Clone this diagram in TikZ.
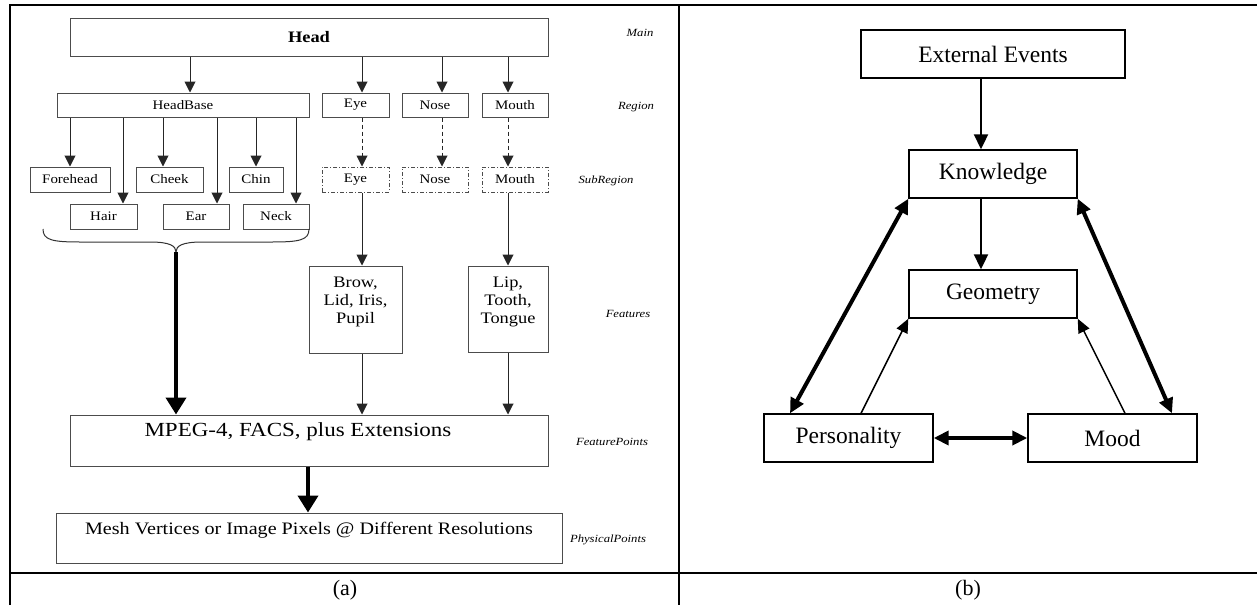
\documentclass[tikz,border=0pt]{standalone}
\usepackage{fontspec}
\setmainfont{Liberation Serif}
\newfontfamily\lfont[FakeStretch=1.15]{Liberation Serif}
\usetikzlibrary{arrows.meta}
\tikzset{
  frame/.style={line width=2.5pt},
  lbox/.style={draw=black!70, line width=1pt, inner sep=0pt, font=\lfont\fontsize{13}{15}\selectfont},
  dbox/.style={lbox, dash pattern=on 4pt off 2pt on 1pt off 2pt},
  bigtxt/.style={font=\lfont\fontsize{16}{18.3}\selectfont, align=center, inner sep=0pt},
  ptxt/.style={font=\lfont\fontsize{17.5}{20}\selectfont, inner sep=0pt},
  lab/.style={font=\lfont\itshape\fontsize{11}{13}\selectfont, inner sep=0pt},
  larr/.style={draw=black!85, line width=1pt, -{Triangle[length=11pt,width=11pt]}},
  ldash/.style={larr, dash pattern=on 4pt off 3pt},
  lthick/.style={line width=4pt, -{Triangle[length=17pt,width=20pt]}},
  rbox/.style={draw, line width=1.4pt, inner sep=0pt, font=\fontsize{23.5}{26}\selectfont},
  rarr/.style={line width=2pt, -{Triangle[length=15pt,width=14pt]}},
  rthick/.style={line width=4pt, {Triangle[length=15pt,width=14pt]}-{Triangle[length=15pt,width=14pt]}},
  rthin/.style={line width=1.5pt, -{Triangle[length=14pt,width=12pt]}},
  captxt/.style={font=\fontsize{22}{24}\selectfont, inner sep=0pt}
}
\begin{document}
\begin{tikzpicture}[x=1pt,y=-1pt]
\useasboundingbox (0,0) rectangle (1257,605);
% frame
\draw[frame] (10,605) -- (10,5) -- (1257,5);
\draw[frame] (679,5) -- (679,605);
\draw[frame] (10,573) -- (1257,573);
\node[captxt] (capa) at (345,590) {(a)};
\node[captxt] (capb) at (968,590) {(b)};

% ---------- left panel ----------
\node[lbox, minimum width=478pt, minimum height=38pt, font=\lfont\bfseries\fontsize{16}{18}\selectfont] (head) at (309,37) {Head};

\node[lbox, minimum width=252pt, minimum height=24pt] (hb) at (183,105) {HeadBase};
\node[lbox, minimum width=67pt, minimum height=24pt] (eyer) at (355.5,105) {Eye};
\node[lbox, minimum width=66pt, minimum height=24pt] (noser) at (435,105) {Nose};
\node[lbox, minimum width=66pt, minimum height=24pt] (mouthr) at (515,105) {Mouth};

\node[lbox, minimum width=80pt, minimum height=25pt] (fore) at (70,179.5) {Forehead};
\node[lbox, minimum width=67pt, minimum height=25pt] (cheek) at (169.5,179.5) {Cheek};
\node[lbox, minimum width=54pt, minimum height=25pt] (chin) at (256,179.5) {Chin};
\node[lbox, minimum width=67pt, minimum height=25pt] (hair) at (103.5,216.5) {Hair};
\node[lbox, minimum width=66pt, minimum height=25pt] (ear) at (196,216.5) {Ear};
\node[lbox, minimum width=66pt, minimum height=25pt] (neck) at (276,216.5) {Neck};

\node[dbox, minimum width=67pt, minimum height=25pt] (eyes) at (355.5,179.5) {Eye};
\node[dbox, minimum width=66pt, minimum height=25pt] (noses) at (435,179.5) {Nose};
\node[dbox, minimum width=66pt, minimum height=25pt] (mouths) at (515,179.5) {Mouth};

\node[lbox, minimum width=93pt, minimum height=87pt] (brow) at (355.5,309.5) {};
\node[bigtxt] (browt) at (355.5,302) {Brow,\\Lid, Iris,\\Pupil};
\node[lbox, minimum width=80pt, minimum height=86pt] (lip) at (508,309) {};
\node[bigtxt] (lipt) at (508,302) {Lip,\\Tooth,\\Tongue};

\node[lbox, minimum width=478pt, minimum height=51pt] (mpeg) at (309,440.5) {};
\node[ptxt, font=\lfont\fontsize{20}{22}\selectfont] (mpegt) at (298,432) {MPEG-4, FACS, plus Extensions};
\node[lbox, minimum width=506pt, minimum height=50pt] (mesh) at (309,538) {};
\node[ptxt] (mesht) at (309,530) {Mesh Vertices or Image Pixels @ Different Resolutions};

% level labels
\node[lab] (lmain) at (640,33) {Main};
\node[lab] (lreg) at (636,107) {Region};
\node[lab] (lsub) at (606,181) {SubRegion};
\node[lab] (lfeat) at (628,314) {Features};
\node[lab] (lfp) at (612,442) {FeaturePoints};
\node[lab] (lpp) at (608,540) {PhysicalPoints};

% arrows head -> regions
\draw[larr] (head.south -| 190,0) -- (hb.north -| 190,0);
\draw[larr] (head.south -| 362,0) -- (eyer.north -| 362,0);
\draw[larr] (head.south -| 442,0) -- (noser.north -| 442,0);
\draw[larr] (head.south -| 508,0) -- (mouthr.north -| 508,0);
% headbase children
\draw[larr] (hb.south -| 70,0) -- (fore.north -| 70,0);
\draw[larr] (hb.south -| 123,0) -- (hair.north -| 123,0);
\draw[larr] (hb.south -| 163,0) -- (cheek.north -| 163,0);
\draw[larr] (hb.south -| 217,0) -- (ear.north -| 217,0);
\draw[larr] (hb.south -| 256,0) -- (chin.north -| 256,0);
\draw[larr] (hb.south -| 296,0) -- (neck.north -| 296,0);
% dashed region -> subregion
\draw[ldash] (eyer.south -| 362,0) -- (eyes.north -| 362,0);
\draw[ldash] (noser.south -| 442,0) -- (noses.north -| 442,0);
\draw[ldash] (mouthr.south -| 508,0) -- (mouths.north -| 508,0);
% subregion -> features
\draw[larr] (eyes.south -| 362,0) -- (brow.north -| 362,0);
\draw[larr] (mouths.south -| 508,0) -- (lip.north -| 508,0);
% features -> mpeg
\draw[larr] (brow.south -| 362,0) -- (mpeg.north -| 362,0);
\draw[larr] (lip.south -| 508,0) -- (mpeg.north -| 508,0);
% brace
\coordinate (bl) at (43,229);
\coordinate (br) at (309,229);
\coordinate (btip) at (176,252);
\draw[black!80, line width=1pt] (bl) .. controls (43,240) and (52,242) .. (80,242) -- (150,242)
  .. controls (170,242) and (176,246) .. (btip)
  .. controls (176,246) and (182,242) .. (202,242) -- (272,242)
  .. controls (300,242) and (309,240) .. (br);
\draw[lthick] (btip) -- (btip |- mpeg.north);
\draw[lthick] (mpeg.south -| 308,0) -- (mesh.north -| 308,0);

% ---------- right panel ----------
\node[rbox, minimum width=264pt, minimum height=48pt] (ee) at (993,54) {External Events};
\node[rbox, minimum width=168pt, minimum height=48pt] (kn) at (993,174) {Knowledge};
\node[rbox, minimum width=168pt, minimum height=48pt] (geo) at (993,294) {Geometry};
\node[rbox, minimum width=169pt, minimum height=48pt] (pers) at (848.5,438) {Personality};
\node[rbox, minimum width=169pt, minimum height=48pt] (mood) at (1112.5,438) {Mood};

\draw[rarr] (ee.south -| 981,0) -- (kn.north -| 981,0);
\draw[rarr] (kn.south -| 981,0) -- (geo.north -| 981,0);
\draw[rthick] (kn.south west) -- (pers.north -| 790,0);
\draw[rthick] (kn.south east) -- (mood.north -| 1172,0);
\draw[rthin] (pers.north -| 861,0) -- (geo.south west);
\draw[rthin] (mood.north -| 1125,0) -- (geo.south east);
\draw[rthick] (pers.east) -- (mood.west);
\end{tikzpicture}
\end{document}
